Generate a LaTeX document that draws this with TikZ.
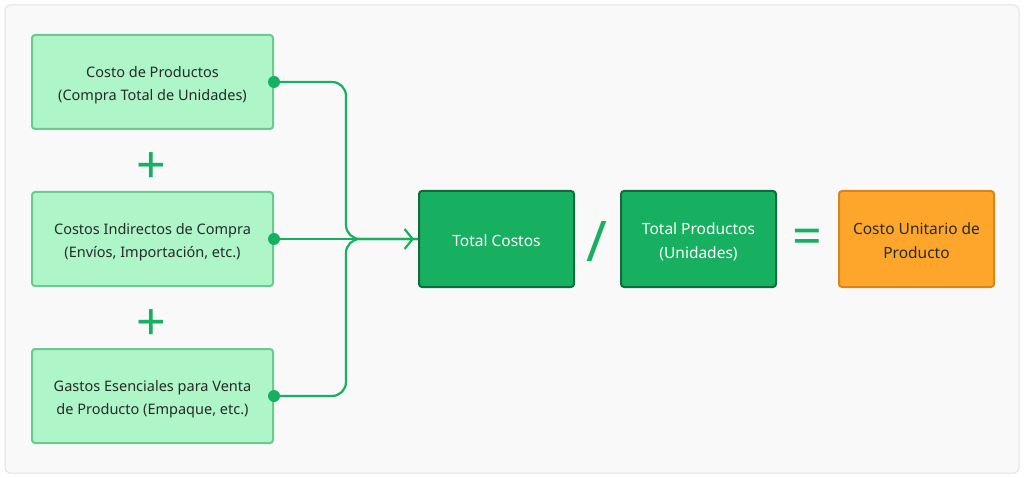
\documentclass[tikz,border=0pt]{standalone}
\usepackage{fontspec}
\setmainfont{Noto Sans}
\usetikzlibrary{arrows.meta}
\definecolor{bgfill}{HTML}{F9F9F9}
\definecolor{bgline}{HTML}{E2E2E2}
\definecolor{lgfill}{HTML}{AEF5C8}
\definecolor{lgline}{HTML}{6CC98F}
\definecolor{dgfill}{HTML}{17B060}
\definecolor{dgline}{HTML}{0E6E3A}
\definecolor{orfill}{HTML}{FEA62B}
\definecolor{orline}{HTML}{D7861B}
\definecolor{txt}{HTML}{262B28}
\definecolor{conn}{HTML}{17B060}
\newcommand{\lowtxt}[1]{\raisebox{-2.5pt}[\height][\depth]{\begin{tabular}{@{}c@{}}#1\end{tabular}}}
\tikzset{
  inbox/.style={draw=lgline, fill=lgfill, line width=2pt, rounded corners=3pt,
    minimum width=241pt, minimum height=94pt, align=center, text=txt,
    font=\fontsize{14.5}{23}\selectfont, inner sep=0pt},
  darkbox/.style={draw=dgline, fill=dgfill, line width=2pt, rounded corners=3pt,
    minimum width=155pt, minimum height=96pt, align=center, text=white,
    font=\fontsize{15.5}{24}\selectfont, inner sep=0pt},
  resbox/.style={draw=orline, fill=orfill, line width=2pt, rounded corners=3pt,
    minimum width=155pt, minimum height=96pt, align=center, text=txt,
    font=\fontsize{15.5}{24}\selectfont, inner sep=0pt},
  dot/.style={circle, fill=conn, minimum size=12pt, inner sep=0pt},
  conline/.style={draw=conn, line width=2.2pt, rounded corners=14pt},
  op/.style={text=conn, font=\fontsize{52}{52}\selectfont\bfseries, inner sep=0pt},
}
\begin{document}
\begin{tikzpicture}[x=1pt,y=-1pt]
\useasboundingbox (0,0) rectangle (1024,478);
\draw[draw=bgline, fill=bgfill, line width=1pt, rounded corners=5pt] (5,5) rectangle (1019,473);

\node[inbox] (b1) at (152.5,82) {\lowtxt{Costo de Productos\\(Compra Total de Unidades)}};
\node[inbox] (b2) at (152.5,239) {\lowtxt{Costos Indirectos de Compra\\(Envíos, Importación, etc.)}};
\node[inbox] (b3) at (152.5,396) {\lowtxt{Gastos Esenciales para Venta\\de Producto (Empaque, etc.)}};

\node[op] (p1) at (151,168) {+};
\node[op] (p2) at (151,325) {+};

\node[darkbox] (tc) at (496.5,239) {\lowtxt{Total Costos}};
\node[op, font=\fontsize{56}{56}\selectfont\bfseries] (sl) at (597,242) {/};
\node[darkbox] (tp) at (698.5,239) {\lowtxt{Total Productos\\(Unidades)}};
\node[op] (eq) at (807,242) {=};
\node[resbox] (cu) at (916.5,239) {\lowtxt{Costo Unitario de\\Producto}};

\node[dot] (d1) at (b1.east) {};
\node[dot] (d2) at (b2.east) {};
\node[dot] (d3) at (b3.east) {};

\coordinate (j1) at (346,82);
\coordinate (j2) at (346,239);
\coordinate (j3) at (346,396);

\draw[conline] (d1.center) -- (j1) -- (j2) -- (tc.west);
\draw[conline] (d3.center) -- (j3) -- (j2) -- (tc.west);
\draw[draw=conn, line width=2.2pt, shorten >=4pt, -{Straight Barb[length=8pt,width=20pt,line width=2.2pt]}] (d2.center) -- (tc.west);
\end{tikzpicture}
\end{document}
